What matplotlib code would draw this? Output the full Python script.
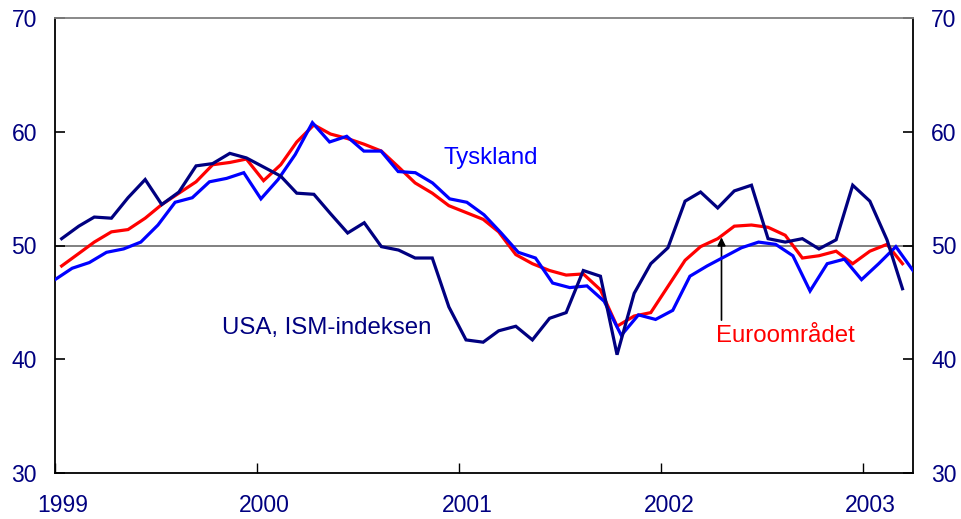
import matplotlib
matplotlib.use('Agg')
import matplotlib.pyplot as plt
import pandas as pd
from matplotlib.transforms import ScaledTranslation

plt.rcParams['font.family'] = ['Liberation Sans', 'DejaVu Sans']

# Monthly observations, Jan 1999 - Mar 2003
months = pd.date_range('1999-01-01', periods=51, freq='MS')

usa_ism = [50.6, 51.7, 52.5, 52.4, 54.2, 55.8, 53.6, 54.7, 57.0, 57.2,
           58.1, 57.7, 56.9, 56.1, 54.6, 54.5, 52.8, 51.1, 52.0, 49.9,
           49.6, 48.9, 48.9, 44.6, 41.7, 41.5, 42.5, 42.9, 41.7, 43.6,
           44.1, 47.8, 47.3, 40.4, 45.8, 48.4, 49.8, 53.9, 54.7, 53.3,
           54.8, 55.3, 50.6, 50.3, 50.6, 49.7, 50.5, 55.3, 53.9, 50.5,
           46.2]

euroomradet = [48.2, 49.3, 50.3, 51.2, 51.4, 52.4, 53.6, 54.6, 55.6, 57.1,
               57.3, 57.6, 55.7, 57.1, 59.1, 60.6, 59.8, 59.4, 58.9, 58.3,
               56.9, 55.5, 54.6, 53.5, 52.9, 52.3, 51.2, 49.2, 48.4, 47.8,
               47.4, 47.5, 46.1, 42.9, 43.8, 44.1, 46.4, 48.7, 49.9, 50.6,
               51.7, 51.8, 51.6, 50.9, 48.9, 49.1, 49.5, 48.4, 49.5, 50.1,
               48.4]

tyskland = [47.0, 48.0, 48.5, 49.4, 49.7, 50.3, 51.8, 53.8, 54.2, 55.6,
            55.9, 56.4, 54.1, 55.8, 58.0, 60.8, 59.1, 59.6, 58.3, 58.3,
            56.5, 56.4, 55.5, 54.1, 53.8, 52.7, 51.1, 49.4, 48.9, 46.7,
            46.3, 46.45, 45.1, 42.1, 43.9, 43.5, 44.3, 47.3, 48.2, 49.0,
            49.8, 50.3, 50.1, 49.1, 46.0, 48.4, 48.8, 47.0, 48.4, 49.9,
            47.8]

year_ticks = pd.to_datetime(['1999-01-01', '2000-01-01', '2001-01-01',
                             '2002-01-01', '2003-01-01'])
year_labels = ['1999', '2000', '2001', '2002', '2003']
y_ticks = [30, 40, 50, 60, 70]

NAVY = '#000080'
RED = '#FF0000'
BLUE = '#0000FF'
LW = 2.3

fig = plt.figure(figsize=(9.61, 5.19), dpi=100)
ax = fig.add_axes([55 / 961, 1 - 473 / 519, 858 / 961, 455 / 519])
ax.set_xlim(pd.Timestamp('1999-01-01'), pd.Timestamp('2003-04-01'))
ax.set_ylim(30, 70)

pos = months + pd.Timedelta(days=12)
ax.axhline(50, color='#808080', lw=1.4, zorder=0.5)
ax.plot(pos, euroomradet, color=RED, lw=LW, solid_joinstyle='miter')

# Tyskland drawn on its own category axis spanning the full width
axb = ax.twiny()
axb.set_xlim(0, len(tyskland) - 1)
axb.plot(range(len(tyskland)), tyskland, color=BLUE, lw=LW, solid_joinstyle='miter')
axb.set_axis_off()

axn = ax.twinx()
axn.set_ylim(30, 70)
axn.plot(pos, usa_ism, color=NAVY, lw=LW, solid_joinstyle='miter')
axn.set_axis_off()

for s in ['left', 'right', 'bottom']:
    ax.spines[s].set_color('black')
    ax.spines[s].set_linewidth(1.3)
ax.spines['top'].set_color('#808080')
ax.spines['top'].set_linewidth(1.3)

ax.set_yticks(y_ticks)
ax.set_yticklabels([str(v) for v in y_ticks])
ax.tick_params(axis='y', direction='in', length=7, width=1.2, left=True, right=True,
               labelleft=True, labelright=True, labelsize=16.5, labelcolor=NAVY, pad=13)

ax.set_xticks(year_ticks)
ax.set_xticklabels(year_labels)
ax.tick_params(axis='x', direction='in', length=7, width=1.0, labelsize=16.5,
               labelcolor=NAVY, pad=15)
for lbl in ax.get_xticklabels():
    lbl.set_transform(lbl.get_transform() + ScaledTranslation(7.5 / 100, 0, fig.dpi_scale_trans))

ax.text(0.508, 0.692, 'Tyskland', transform=ax.transAxes, ha='center', va='center',
        color=BLUE, fontsize=17.3)
ax.text(0.317, 0.318, 'USA, ISM-indeksen', transform=ax.transAxes, ha='center',
        va='center', color=NAVY, fontsize=17.3)
ax.text(0.851, 0.302, 'Euroområdet', transform=ax.transAxes, ha='center', va='center',
        color=RED, fontsize=17.3)
ax.annotate('', xy=(0.7768, 0.518), xytext=(0.7768, 0.336), xycoords='axes fraction',
            arrowprops=dict(arrowstyle='-|>', color='black', lw=1.2,
                            mutation_scale=12, shrinkA=0, shrinkB=0))

fig.savefig('out.png', dpi=100)
